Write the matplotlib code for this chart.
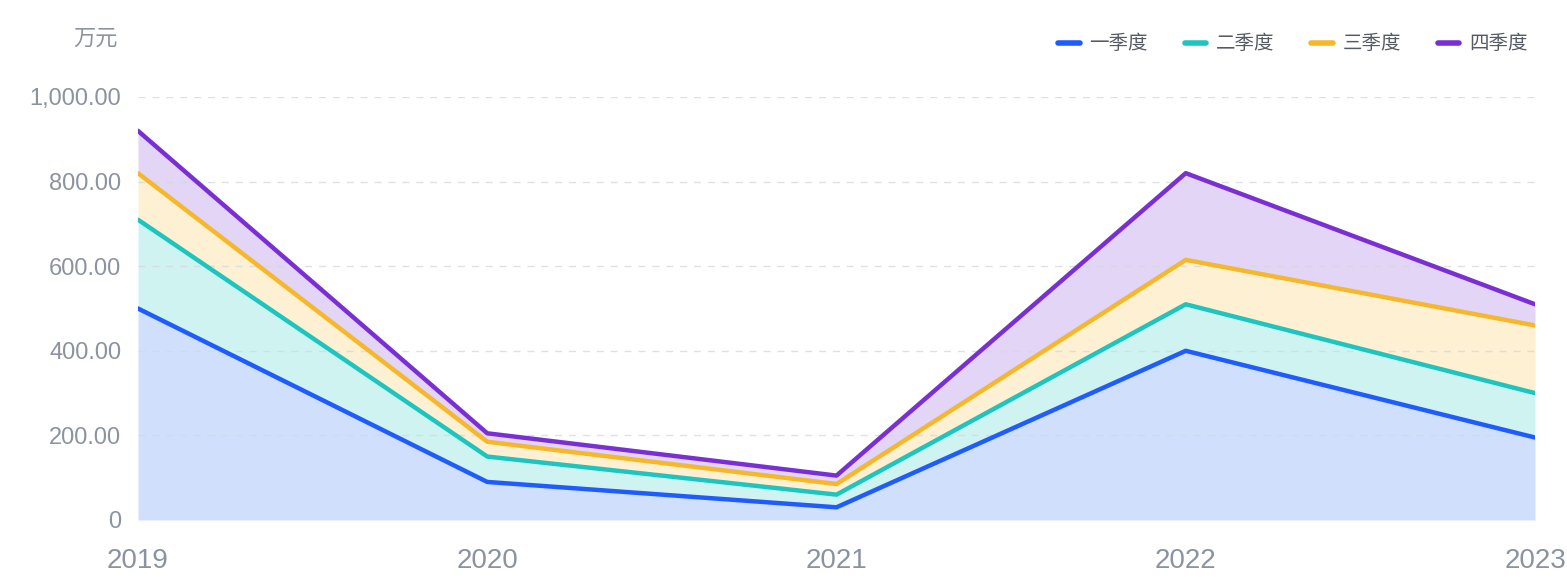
import matplotlib
matplotlib.use("Agg")
import matplotlib.pyplot as plt
from matplotlib.lines import Line2D
from matplotlib.ticker import FuncFormatter
import numpy as np

plt.rcParams['font.family'] = ['Noto Sans CJK SC', 'DejaVu Sans']

years = ["2019", "2020", "2021", "2022", "2023"]
series_names = ["一季度", "二季度", "三季度", "四季度"]
q1 = [500, 90, 30, 400, 195]
q2 = [210, 60, 30, 110, 105]
q3 = [110, 35, 25, 105, 160]
q4 = [100, 20, 20, 205, 50]
y_ticks = [0, 200, 400, 600, 800, 1000]

line_colors = ["#1F5BFF", "#1DC5BF", "#F6B82A", "#7A2FD4"]
fill_colors = ["#D0DFFC", "#CFF3F1", "#FDF0D3", "#E3D5F5"]

fig = plt.figure(figsize=(15.67, 5.77), dpi=100)
ax = fig.add_axes([138/1567, (577-520)/577, (1535-138)/1567, (520-97)/577])

x = np.arange(len(years))
data = [q1, q2, q3, q4]
base = np.zeros(len(years))
for vals, lc, fc, name in zip(data, line_colors, fill_colors, series_names):
    top = base + np.array(vals)
    ax.fill_between(x, base, top, color=fc, linewidth=0, zorder=1)
    ax.plot(x, top, color=lc, linewidth=3.2, solid_capstyle='round', zorder=3, label=name)
    base = top

ax.set_xlim(0, len(years) - 1)
ax.set_ylim(0, 1000)
ax.set_yticks(y_ticks)
ax.yaxis.set_major_formatter(FuncFormatter(lambda v, p: "0" if v == 0 else f"{v:,.2f}"))
ax.set_xticks(x)
ax.set_xticklabels(years)
for s in ax.spines.values():
    s.set_visible(False)
ax.tick_params(axis='both', length=0)
ax.tick_params(axis='y', labelsize=17, labelcolor="#8C93A0", pad=12)
ax.tick_params(axis='x', labelsize=20, labelcolor="#8C93A0", pad=20)
for lbl in ax.get_yticklabels() + ax.get_xticklabels():
    lbl.set_family(['Liberation Sans', 'DejaVu Sans'])
ax.grid(axis='y', color="#D5D9E0", linestyle=(0, (5, 5)), linewidth=1, alpha=0.8, zorder=2)
ax.set_axisbelow(False)
ax.grid(axis='x', visible=False)

fig.text(95/1567, 1 - 38/577, "万元", ha='center', va='center', fontsize=16, color="#8C93A0")

handles = [Line2D([0], [0], color=c, linewidth=4, solid_capstyle='round') for c in line_colors]
leg = fig.legend(handles, series_names, loc='upper right', bbox_to_anchor=(1545/1567, 1 - 16/577),
                 ncol=4, frameon=False, fontsize=14, handlelength=1.1, handletextpad=0.5,
                 columnspacing=1.9, labelcolor="#555A63")

fig.savefig("out.png", dpi=100)
